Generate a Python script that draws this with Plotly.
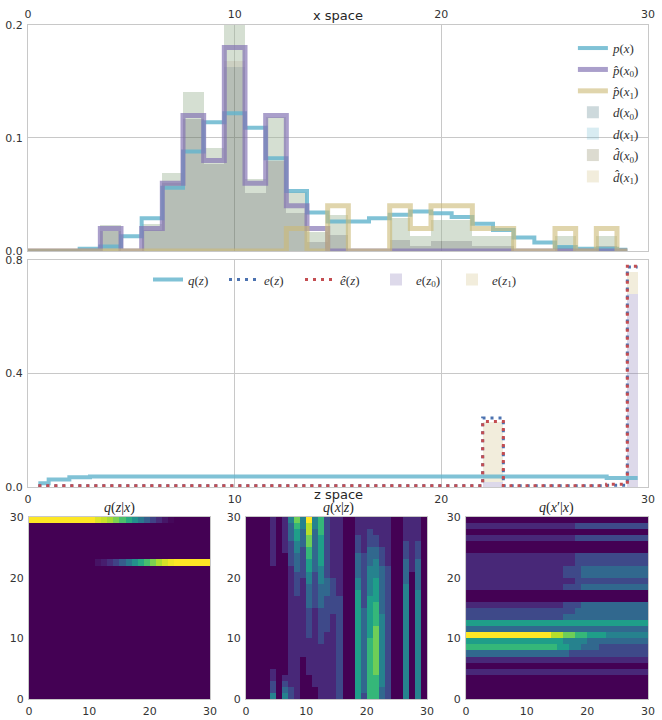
import plotly.graph_objects as go
import numpy as np

# ---------------- x space (top panel) ----------------
X = list(range(30))

P_X = [0.0, 0.0, 0.0, 0.002, 0.004, 0.013, 0.029, 0.056, 0.088, 0.114,
       0.122, 0.109, 0.082, 0.053, 0.034, 0.026, 0.026, 0.029, 0.032, 0.035,
       0.0335, 0.030, 0.024, 0.0185, 0.012, 0.0075, 0.0036, 0.002, 0.002, 0.001]
P_HAT_X0 = [0, 0, 0, 0, 0.02, 0, 0.02, 0.06, 0.12, 0.08,
            0.18, 0.06, 0.12, 0.04, 0.02, 0, 0, 0, 0, 0,
            0, 0, 0, 0, 0, 0, 0, 0, 0, 0]
P_HAT_X1 = [0, 0, 0, 0, 0, 0, 0, 0, 0, 0,
            0, 0, 0, 0.02, 0, 0.04, 0, 0, 0.04, 0.02,
            0.04, 0.04, 0.02, 0.02, 0, 0, 0.02, 0, 0.02, 0]

# bar heights (x1 parts sit on top of the x0 parts)
D_X0 = [0, 0, 0, 0, 0.018, 0, 0.019, 0.060, 0.117, 0.077,
        0.168, 0.051, 0.080, 0.034, 0.008, 0.014, 0, 0, 0.0095, 0.004,
        0.009, 0.009, 0.004, 0.004, 0, 0, 0.004, 0, 0.004, 0]
D_X1 = [0, 0, 0, 0, 0.005, 0, 0.005, 0.009, 0.024, 0.014,
        0.057, 0.013, 0.039, 0.018, 0.009, 0.018, 0, 0, 0.0195, 0.009,
        0.018, 0.018, 0.009, 0.009, 0, 0, 0.009, 0, 0.009, 0]
DH_X0 = [0, 0, 0, 0, 0.018, 0, 0.019, 0.060, 0.117, 0.077,
         0.163, 0.051, 0.080, 0.034, 0.008, 0.014, 0, 0, 0.0095, 0.004,
         0.009, 0.009, 0.004, 0.004, 0, 0, 0.004, 0, 0.004, 0]
DH_X1 = [0, 0, 0, 0, 0.005, 0, 0.005, 0.009, 0.024, 0.014,
         0.062, 0.013, 0.039, 0.018, 0.009, 0.018, 0, 0, 0.0195, 0.009,
         0.018, 0.018, 0.009, 0.009, 0, 0, 0.009, 0, 0.009, 0]

# ---------------- z space (middle panel) ----------------
Z = [0.5, 1.5, 2.5, 3.5, 4.5, 5.5, 6.5, 7.5, 8.5, 9.5,
     10.5, 11.5, 12.5, 13.5, 14.5, 15.5, 16.5, 17.5, 18.5, 19.5,
     20.5, 21.5, 22.5, 23.5, 24.5, 25.5, 26.5, 27.5, 28.5, 29.5]
Q_Z = [0.013, 0.026, 0.034, 0.037, 0.037, 0.037, 0.037, 0.037, 0.037, 0.037,
       0.037, 0.037, 0.037, 0.037, 0.037, 0.037, 0.037, 0.037, 0.037, 0.037,
       0.037, 0.037, 0.037, 0.037, 0.037, 0.037, 0.037, 0.037, 0.032, 0.032]
E_Z = [0.004, 0.004, 0.004, 0.004, 0.004, 0.004, 0.004, 0.004, 0.004, 0.004,
       0.004, 0.004, 0.004, 0.004, 0.004, 0.004, 0.004, 0.004, 0.004, 0.004,
       0.004, 0.004, 0.243, 0.004, 0.004, 0.004, 0.004, 0.004, 0.006, 0.775]
E_HAT_Z = [0.004, 0.004, 0.004, 0.004, 0.004, 0.004, 0.004, 0.004, 0.004, 0.004,
           0.004, 0.004, 0.004, 0.004, 0.004, 0.004, 0.004, 0.004, 0.004, 0.004,
           0.004, 0.004, 0.231, 0.004, 0.004, 0.004, 0.004, 0.004, 0.010, 0.778]
E_BAR_Z = [22.5, 29.25]
E_Z0 = [0.019, 0.679]
E_Z1 = [0.211, 0.078]

# ---------------- heatmaps ----------------
# q(z|x): only two rows of z are non-zero
Q_ZX_ROW29 = [1, 1, 1, 1, 1, 1, 1, 1, 1, 1, 1,
              0.95, 0.92, 0.87, 0.8, 0.71, 0.61, 0.5, 0.4, 0.3, 0.2, 0.12, 0.06, 0.02,
              0, 0, 0, 0, 0, 0]
Q_ZX_ROW22 = [0, 0, 0, 0, 0, 0, 0, 0, 0, 0, 0,
              0.05, 0.08, 0.13, 0.2, 0.29, 0.39, 0.5, 0.6, 0.7, 0.8, 0.88, 0.94, 0.98,
              1, 1, 1, 1, 1, 1]

# q(x|z): one string per x column, levels 0-9, z = 29 (top) down to z = 0
Q_XZ_COLS = [
    "000000000000000000000000000000",
    "000000000000000000000000000000",
    "000000000000000000000000000000",
    "000000000000000000000000000000",
    "111111110000000000000000011224",
    "000000000000000000000000000000",
    "111111000000000000000000001234",
    "433322221111111111111111111122",
    "765544333222211111111111111111",
    "443332222211111111111110000000",
    "988776655443333222221111110000",
    "443333333222222111111111111100",
    "666555554443333222222111111111",
    "222222222233322222211111111111",
    "111111111122222211111111111111",
    "111111111111122222222222222222",
    "000000000000000000000000000000",
    "000000000000000000000000000000",
    "111222333344555555555555555555",
    "111111222222222333333333333332",
    "112223334444455555556666666666",
    "111223344455556666777777776666",
    "111112223333333344444444444433",
    "111111112222222222222222222222",
    "000000000000000000000000000000",
    "000000000000000000000000000000",
    "111122233334444444444444444444",
    "111111111000000000000000000000",
    "111122233333444444444444444444",
    "000000000000000000000000000000",
]

# q(x'|x): one string per x' row, levels 0-9, x' = 0 (bottom) up to x' = 29
Q_XPX_ROWS = [
    "000000000000000000000000000000",
    "000000000000000000000000000000",
    "000000000000000000000000000000",
    "000000000000000000000000000000",
    "111111111111111111111111111111",
    "000000000000000000000000000000",
    "111111111111111111111111111111",
    "333333333333333332222222222222",
    "666666666666666554433322222222",
    "555555555555555544443333333333",
    "999999999999998877665554444444",
    "333333333333333333333333333333",
    "555555555555555555555555555555",
    "222222222222222233333333333333",
    "222222222222222222333333333333",
    "111111111111111122233333333333",
    "000000000000000000000000000000",
    "000000000000000000000000000000",
    "111111111111111122233333333333",
    "111111111111111111222222222222",
    "111111111111111122233333333333",
    "111111111111111122233333333333",
    "111111111111111111222222222222",
    "111111111111111111222222222222",
    "000000000000000000000000000000",
    "000000000000000000000000000000",
    "111111111111111111222222222222",
    "000000000000000000000000000000",
    "111111111111111111222222222222",
    "000000000000000000000000000000",
]

q_zx = np.zeros((30, 30))
q_zx[22] = Q_ZX_ROW22
q_zx[29] = Q_ZX_ROW29
q_xz = np.array([[int(c) for c in col[::-1]] for col in Q_XZ_COLS]).T
q_xpx = np.array([[int(c) for c in row] for row in Q_XPX_ROWS])

CYAN = "rgba(100,181,205,0.82)"
PURPLE = "rgba(129,114,178,0.68)"
GOLD = "rgba(204,185,116,0.6)"

fig = go.Figure()

# top panel lines
fig.add_trace(go.Scatter(x=X, y=P_X, mode="lines", line=dict(color=CYAN, width=4, shape="hvh"),
                         name="<i>p</i>(<i>x</i>)", legendgroup="a", xaxis="x", yaxis="y"))
fig.add_trace(go.Scatter(x=X, y=P_HAT_X0, mode="lines", line=dict(color=PURPLE, width=5, shape="hvh"),
                         name="<i>p\u0302</i>(<i>x</i><sub>0</sub>)", legendgroup="b", xaxis="x", yaxis="y"))
fig.add_trace(go.Scatter(x=X, y=P_HAT_X1, mode="lines", line=dict(color=GOLD, width=5, shape="hvh"),
                         name="<i>p\u0302</i>(<i>x</i><sub>1</sub>)", legendgroup="c", xaxis="x", yaxis="y"))

# top panel bars
bar_specs = [
    (D_X0, None, "rgba(55,103,115,0.25)", "<i>d</i>(<i>x</i><sub>0</sub>)", "d"),
    (D_X1, D_X0, "rgba(100,181,205,0.25)", "<i>d</i>(<i>x</i><sub>1</sub>)", "e"),
    (DH_X0, None, "rgba(115,111,67,0.25)", "<i>d\u0302</i>(<i>x</i><sub>0</sub>)", "f"),
    (DH_X1, DH_X0, "rgba(204,185,116,0.25)", "<i>d\u0302</i>(<i>x</i><sub>1</sub>)", "g"),
]
for vals, base, col, name, grp in bar_specs:
    fig.add_trace(go.Bar(x=X, y=vals, base=base, width=1.0, marker=dict(color=col, line=dict(width=0)),
                         name=name, legendgroup=grp, xaxis="x", yaxis="y"))

# middle panel
fig.add_trace(go.Scatter(x=Z, y=Q_Z, mode="lines", line=dict(color=CYAN, width=4, shape="hvh"),
                         name="<i>q</i>(<i>z</i>)", xaxis="x2", yaxis="y2", legend="legend2"))
fig.add_trace(go.Scatter(x=Z, y=E_Z, mode="lines",
                         line=dict(color="#4C72B0", width=3, shape="hvh", dash="3px,5px"),
                         name="<i>e</i>(<i>z</i>)", xaxis="x2", yaxis="y2", legend="legend2"))
fig.add_trace(go.Scatter(x=Z, y=E_HAT_Z, mode="lines",
                         line=dict(color="#C44E52", width=3, shape="hvh", dash="3px,5px"),
                         name="<i>e\u0302</i>(<i>z</i>)", xaxis="x2", yaxis="y2", legend="legend2"))
fig.add_trace(go.Bar(x=E_BAR_Z, y=E_Z0, width=[0.94, 0.55],
                     marker=dict(color="rgba(129,114,178,0.27)", line=dict(width=0)),
                     name="<i>e</i>(<i>z</i><sub>0</sub>)", xaxis="x2", yaxis="y2", legend="legend2"))
fig.add_trace(go.Bar(x=E_BAR_Z, y=E_Z1, base=E_Z0, width=[0.94, 0.55],
                     marker=dict(color="rgba(204,185,116,0.25)", line=dict(width=0)),
                     name="<i>e</i>(<i>z</i><sub>1</sub>)", xaxis="x2", yaxis="y2", legend="legend2"))

# heatmaps
for z, zmax, xa, ya in [(q_zx, 1.0, "x3", "y3"), (q_xz, 9, "x4", "y4"), (q_xpx, 9, "x5", "y5")]:
    fig.add_trace(go.Heatmap(z=z, x0=0.5, dx=1, y0=0.5, dy=1, zmin=0, zmax=zmax,
                             colorscale="Viridis", showscale=False, xaxis=xa, yaxis=ya,
                             hoverinfo="skip"))

TICKFONT = dict(family="DejaVu Sans", size=11, color="#333")
FRAME = "#c8c8c8"


def axis(**kw):
    base = dict(showline=True, mirror=True, linecolor=FRAME, linewidth=1, ticks="",
                zeroline=False, tickfont=TICKFONT, showgrid=True, gridcolor=FRAME, gridwidth=1,
                automargin=False, ticklabelstandoff=2)
    base.update(kw)
    return base


T_Y = [0.6652, 1.0]
M_Y = [0.3156, 0.6519]
H_Y = [0.0015, 0.2711]
ticks30 = dict(range=[0, 30], tickvals=[0, 10, 20, 30])

fig.update_layout(
    width=662, height=720,
    margin=dict(l=28, r=14, t=25, b=20),
    paper_bgcolor="white", plot_bgcolor="white",
    barmode="overlay", bargap=0,
    xaxis=axis(domain=[0, 1], anchor="y", side="top", **ticks30),
    yaxis=axis(domain=T_Y, anchor="x", range=[0, 0.2], tickvals=[0, 0.1, 0.2], tickformat=".1f"),
    xaxis2=axis(domain=[0, 1], anchor="y2", **ticks30),
    yaxis2=axis(domain=M_Y, anchor="x2", range=[0, 0.8], tickvals=[0, 0.4, 0.8], tickformat=".1f"),
    xaxis3=axis(domain=[0.0016, 0.2935], anchor="y3", showgrid=False, **ticks30),
    yaxis3=axis(domain=H_Y, anchor="x3", showgrid=False, **ticks30),
    xaxis4=axis(domain=[0.3516, 0.6435], anchor="y4", showgrid=False, **ticks30),
    yaxis4=axis(domain=H_Y, anchor="x4", showgrid=False, **ticks30),
    xaxis5=axis(domain=[0.7065, 1.0], anchor="y5", showgrid=False, **ticks30),
    yaxis5=axis(domain=H_Y, anchor="x5", showgrid=False, **ticks30),
    legend=dict(x=0.995, xanchor="right", y=0.988, yanchor="top", bgcolor="rgba(0,0,0,0)",
                traceorder="grouped", tracegroupgap=1.5,
                font=dict(family="Liberation Serif", size=13, color="#333")),
    legend2=dict(orientation="h", x=0.5, xanchor="center", y=0.645, yanchor="top",
                 bgcolor="rgba(0,0,0,0)", entrywidth=31,
                 font=dict(family="Liberation Serif", size=13, color="#333")),
    showlegend=True,
)

titles = [
    ("x space", 0.5, 1.0148, "DejaVu Sans", 13),
    ("z space", 0.5, 0.305, "DejaVu Sans", 13),
    ("<i>q</i>(<i>z</i>|<i>x</i>)", 0.1468, 0.2844, "Liberation Serif", 14),
    ("<i>q</i>(<i>x</i>|<i>z</i>)", 0.5, 0.2844, "Liberation Serif", 14),
    ("<i>q</i>(<i>x</i>\u2032|<i>x</i>)", 0.853, 0.2844, "Liberation Serif", 14),
]
for text, x, y, fam, size in titles:
    fig.add_annotation(text=text, x=x, y=y, xref="paper", yref="paper", showarrow=False,
                       font=dict(family=fam, size=size, color="#262626"),
                       xanchor="center", yanchor="middle")

# drop the browser's default page margin so the figure sits at the top-left corner
fig.write_html("out.html", config={"displayModeBar": False},
               post_script="document.body.style.margin = '0';")
